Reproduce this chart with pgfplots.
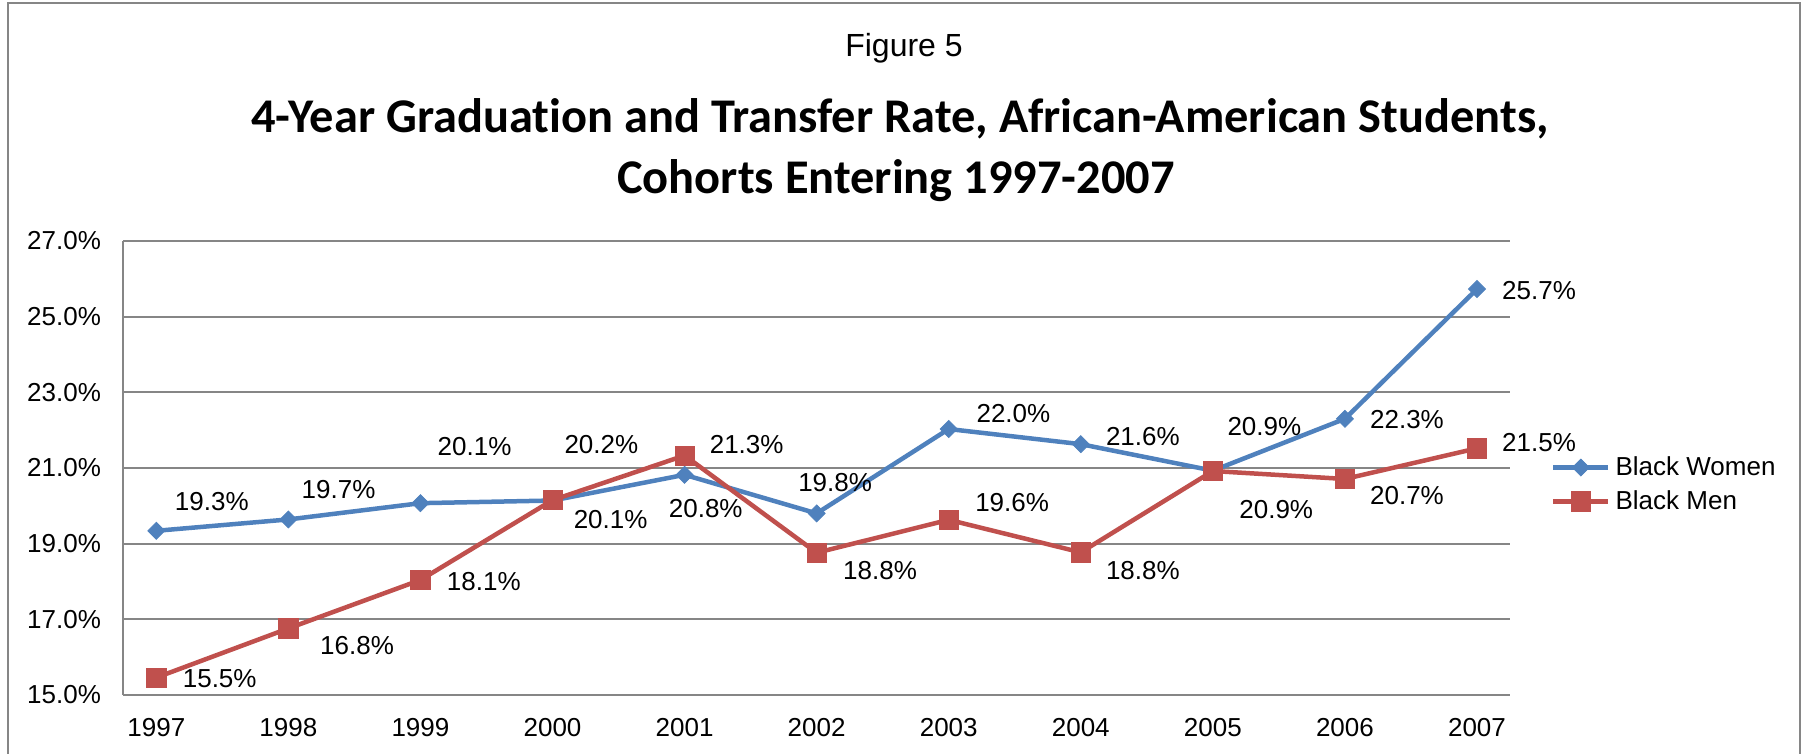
\documentclass[border=0pt]{standalone}
\usepackage{fontspec}
\setmainfont{Liberation Sans}
\newfontfamily\titlefont[Ligatures=CommonOff]{Carlito}
\usepackage{pgfplots}
\pgfplotsset{compat=1.18}
\definecolor{wblue}{RGB}{79,129,189}
\definecolor{mred}{RGB}{192,80,77}
\definecolor{gridgray}{RGB}{134,134,134}
\newcommand\lab{\fontsize{13}{15.6}\selectfont}
\begin{document}
\begin{tikzpicture}[x=1pt,y=1pt]
\useasboundingbox (0,0) rectangle (902,377);
\draw[gridgray, line width=1.2pt] (4,-10) -- (4,375.5) -- (900,375.5) -- (900,-10);
\node[font=\fontsize{16}{19}\selectfont] at (452,353) {Figure 5};
\node[font=\titlefont\bfseries\fontsize{24.2}{30}\selectfont] at (450,317.75) {4-Year Graduation and Transfer Rate, African-American Students,};
\node[font=\titlefont\bfseries\fontsize{24.2}{30}\selectfont] at (448,286.7) {Cohorts Entering 1997-2007};
\begin{axis}[
  at={(61.65pt,29.5pt)}, anchor=south west, scale only axis,
  width=693.35pt, height=227pt,
  xmin=-0.25, xmax=10.25, ymin=15, ymax=27,
  clip=false,
  axis x line=bottom, axis y line=left,
  axis line style={-, gridgray, line width=1pt},
  xtick={0,...,10},
  xticklabels={1997,1998,1999,2000,2001,2002,2003,2004,2005,2006,2007},
  ytick={15,17,19,21,23,25,27},
  yticklabel={\pgfmathprintnumber[fixed,fixed zerofill,precision=1]{\tick}\%},
  /pgf/number format/assume math mode=true,
  major tick length=0pt,
  tick style={draw=none},
  ymajorgrids, grid style={gridgray, line width=1pt},
  tick label style={font=\lab},
  yticklabel style={anchor=east, inner sep=0pt, xshift=-11pt},
  xticklabel style={anchor=base, inner sep=0pt, yshift=-21pt},
  legend style={at={(1,0.4637)}, anchor=west, xshift=20.35pt, draw=none, fill=none,
    inner sep=0pt, row sep=6pt, nodes={inner sep=0pt, anchor=west, font=\lab},
    /tikz/every odd column/.append style={column sep=2.5pt}},
  legend cell align=left,
  legend image code/.code={\draw[mark repeat=2,mark phase=2,#1] plot coordinates {(0pt,0pt)(13.75pt,0pt)(27.5pt,0pt)};},
]
\addplot[wblue, line width=2.25pt, mark=square*, mark size=3pt,
  mark options={solid, rotate=45, fill=wblue, line width=0.4pt}]
  coordinates {(0,19.34)(1,19.64)(2,20.07)(3,20.14)(4,20.82)(5,19.80)(6,22.03)(7,21.63)(8,20.93)(9,22.30)(10,25.73)};
\addlegendentry{Black Women}
\addplot[mred, line width=2.25pt, mark=square*, mark size=4.8pt,
  mark options={solid, fill=mred, line width=0.4pt}]
  coordinates {(0,15.46)(1,16.76)(2,18.04)(3,20.15)(4,21.33)(5,18.76)(6,19.63)(7,18.77)(8,20.92)(9,20.71)(10,21.52)};
\addlegendentry{Black Men}
% data labels, Black Women
\node[font=\lab] at (axis cs:0.42,20.11) {19.3\%};
\node[font=\lab] at (axis cs:1.38,20.44) {19.7\%};
\node[font=\lab] at (axis cs:2.41,21.58) {20.1\%};
\node[font=\lab] at (axis cs:3.44,19.63) {20.1\%};
\node[font=\lab] at (axis cs:4.16,19.92) {20.8\%};
\node[font=\lab] at (axis cs:5.14,20.61) {19.8\%};
\node[font=\lab] at (axis cs:6.49,22.43) {22.0\%};
\node[font=\lab] at (axis cs:7.47,21.82) {21.6\%};
\node[font=\lab] at (axis cs:8.39,22.09) {20.9\%};
\node[font=\lab] at (axis cs:9.47,22.29) {22.3\%};
\node[font=\lab] at (axis cs:10.47,25.69) {25.7\%};
% data labels, Black Men
\node[font=\lab] at (axis cs:0.48,15.44) {15.5\%};
\node[font=\lab] at (axis cs:1.52,16.32) {16.8\%};
\node[font=\lab] at (axis cs:2.48,18.01) {18.1\%};
\node[font=\lab] at (axis cs:3.37,21.61) {20.2\%};
\node[font=\lab] at (axis cs:4.47,21.63) {21.3\%};
\node[font=\lab] at (axis cs:5.48,18.30) {18.8\%};
\node[font=\lab] at (axis cs:6.48,20.09) {19.6\%};
\node[font=\lab] at (axis cs:7.47,18.30) {18.8\%};
\node[font=\lab] at (axis cs:8.48,19.91) {20.9\%};
\node[font=\lab] at (axis cs:9.47,20.26) {20.7\%};
\node[font=\lab] at (axis cs:10.47,21.68) {21.5\%};
\end{axis}
\end{tikzpicture}
\end{document}
